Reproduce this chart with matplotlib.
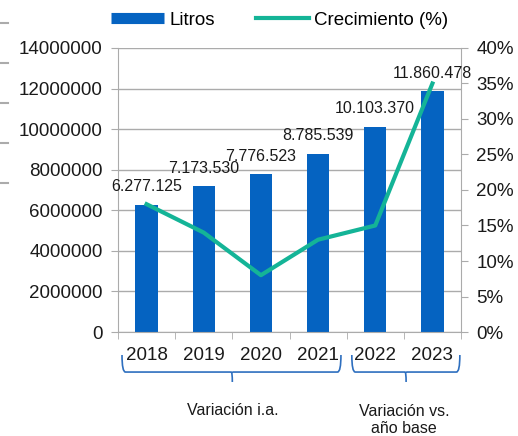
import matplotlib.pyplot as plt
from matplotlib.lines import Line2D
from matplotlib.path import Path
from matplotlib.patches import PathPatch
import matplotlib.transforms as mtransforms

plt.rcParams['font.family'] = ['Liberation Sans', 'DejaVu Sans']

years = ['2018', '2019', '2020', '2021', '2022', '2023']
litros = [6277125, 7173530, 7776523, 8785539, 10103370, 11860478]
litros_labels = ['6.277.125', '7.173.530', '7.776.523', '8.785.539', '10.103.370', '11.860.478']
crecimiento = [18, 14, 8, 13, 15, 35]

bar_color = '#0563C1'
line_color = '#14B497'
grid_color = '#ABABAB'
brace_color = '#2E6FBF'

fig = plt.figure(figsize=(5.18, 4.36), dpi=100)
ax = fig.add_axes([118 / 518, 1 - 332 / 436, 343 / 518, 284 / 436])

x = list(range(len(years)))
ax.bar(x, litros, width=0.39, color=bar_color, zorder=2)
for xi, v, lab in zip(x, litros, litros_labels):
    ax.annotate(lab, (xi, v), xytext=(0, 13), textcoords='offset points',
                ha='center', va='center', fontsize=11.5, color='#1a1a1a', zorder=4)

ax.set_xlim(-0.5, 5.5)
ax.set_ylim(0, 14000000)
ax.set_yticks(range(0, 14000001, 2000000))
ax.set_yticklabels([str(v) for v in range(0, 14000001, 2000000)])
ax.yaxis.grid(True, color=grid_color, linewidth=1)
ax.set_axisbelow(True)

ax.set_xticks(x)
ax.set_xticklabels(years)
ax.set_xticks([i - 0.5 for i in range(7)], minor=True)
ax.tick_params(axis='x', which='major', length=0, pad=11, labelsize=13.5, colors='#1a1a1a')
ax.tick_params(axis='x', which='minor', length=5, color=grid_color, direction='out')
ax.tick_params(axis='y', length=5, color=grid_color, labelsize=13.5, pad=6, labelcolor='#1a1a1a')

for s in ['left', 'right', 'bottom']:
    ax.spines[s].set_color(grid_color)
ax.spines['top'].set_visible(False)

ax2 = ax.twinx()
ax2.plot(x, crecimiento, color=line_color, linewidth=3, zorder=3)
ax2.set_ylim(0, 40)
ax2.set_yticks(range(0, 41, 5))
ax2.set_yticklabels([f'{v}%' for v in range(0, 41, 5)])
ax2.tick_params(axis='y', length=5, color=grid_color, labelsize=13.5, pad=6, labelcolor='#1a1a1a')
for s in ['left', 'right', 'bottom', 'top']:
    ax2.spines[s].set_visible(False)

# curly brackets below the years
trans = mtransforms.blended_transform_factory(ax.transData, ax.transAxes)


def bracket(x0, x1, xc):
    y_top, y_mid, y_bot = -0.081, -0.141, -0.176
    r = 0.06
    verts = [(x0, y_top), (x0, y_mid), (x0 + r, y_mid),
             (xc - 0.02, y_mid), (xc, y_mid), (xc, y_bot),
             (xc, y_mid), (xc + 0.02, y_mid),
             (x1 - r, y_mid), (x1, y_mid), (x1, y_top)]
    codes = [Path.MOVETO, Path.CURVE3, Path.CURVE3,
             Path.LINETO, Path.CURVE3, Path.CURVE3,
             Path.MOVETO, Path.LINETO,
             Path.LINETO, Path.CURVE3, Path.CURVE3]
    ax.add_patch(PathPatch(Path(verts, codes), transform=trans, fill=False,
                           edgecolor=brace_color, linewidth=1.2, clip_on=False))


bracket(-0.43, 3.4, 1.5)
bracket(3.59, 5.48, 4.54)

ax.text(1.5, -0.275, 'Variación i.a.', transform=trans, ha='center', va='center',
        fontsize=11.5, color='#1a1a1a')
ax.text(4.5, -0.31, 'Variación vs.\naño base', transform=trans, ha='center', va='center',
        fontsize=11.5, color='#1a1a1a', linespacing=1.15)

# legend
handles = [Line2D([], [], color=bar_color, linewidth=8, solid_capstyle='butt'),
           Line2D([], [], color=line_color, linewidth=3)]
fig.legend(handles, ['Litros', 'Crecimiento (%)'], loc='center', ncol=2,
           bbox_to_anchor=(0.54, 1 - 20 / 436), frameon=False, fontsize=13.5,
           handlelength=2.8, handletextpad=0.3, columnspacing=2.2)

# short grey dashes on the left edge
for yp in [23, 63, 103, 143, 183]:
    fig.add_artist(Line2D([0, 8 / 518], [1 - yp / 436, 1 - yp / 436],
                          color=grid_color, linewidth=1.5, transform=fig.transFigure))

fig.savefig('out.png', dpi=100)
